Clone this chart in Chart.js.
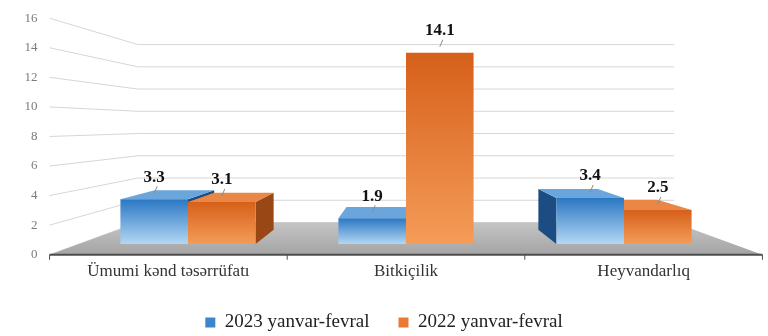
<!DOCTYPE html>
<html>
<head>
<meta charset="utf-8">
<script src="https://cdn.jsdelivr.net/npm/chart.js@4"></script>
<style>
  html, body { margin: 0; padding: 0; background: #ffffff; }
  #wrap { width: 768px; height: 336px; }
</style>
</head>
<body>
<div id="wrap"><canvas id="chart"></canvas></div>
<script>
const categories = ["Ümumi kənd təsərrüfatı", "Bitkiçilik", "Heyvandarlıq"];
const seriesNames = ["2023 yanvar-fevral", "2022 yanvar-fevral"];
const values2023 = [3.3, 1.9, 3.4];
const values2022 = [3.1, 14.1, 2.5];
const yTicks = [0, 2, 4, 6, 8, 10, 12, 14, 16];

const SERIF = "'Liberation Serif', 'DejaVu Serif', serif";

// fake perspective: k < 0 is toward the viewer, k > 0 is into the picture
const FRONT = -0.09, BAR_DEPTH = 0.12, WALL = 0.18;

const looks = [
  { top: "#2a77c3", bottom: "#b3d7f3", lid: "#6aa6dc", side: "#1c4c82", key: "#3b86cf" },
  { top: "#d6601a", bottom: "#f49c58", lid: "#ea8646", side: "#9a4716", key: "#e97a34" }
];

function vanish(chart) {
  const a = chart.chartArea;
  return { x: (a.left + a.right) / 2, y: a.top + (a.bottom - a.top) * 0.45 };
}

function proj(v, x, y, k) {
  return [x + (v.x - x) * k, y + (v.y - y) * k];
}

function poly(ctx, pts, fill) {
  ctx.beginPath();
  ctx.moveTo(pts[0][0], pts[0][1]);
  for (let i = 1; i < pts.length; i++) ctx.lineTo(pts[i][0], pts[i][1]);
  ctx.closePath();
  ctx.fillStyle = fill;
  ctx.fill();
}

function frontFill(i) {
  return function (c) {
    const look = looks[i];
    if (c.type !== "data" || !c.chart.chartArea || !c.chart.scales.y) return look.key;
    const y = c.chart.scales.y;
    const top = y.getPixelForValue(c.raw);
    const base = y.getPixelForValue(0);
    const g = c.chart.ctx.createLinearGradient(0, top, 0, base);
    g.addColorStop(0, look.top);
    g.addColorStop(1, look.bottom);
    return g;
  };
}

const box3d = {
  id: "box3d",
  beforeDraw(chart) {
    const ctx = chart.ctx, a = chart.chartArea, y = chart.scales.y;
    const v = vanish(chart);
    ctx.save();
    ctx.strokeStyle = "#d6d6d6";
    ctx.lineWidth = 1;
    ctx.font = "13px " + SERIF;
    ctx.fillStyle = "#7b7b7b";
    ctx.textAlign = "right";
    ctx.textBaseline = "middle";
    yTicks.forEach(function (t) {
      const py = y.getPixelForValue(t);
      const f = proj(v, a.left, py, FRONT);
      const b = proj(v, a.left, py, WALL);
      const r = proj(v, a.right, py, WALL);
      ctx.beginPath();
      ctx.moveTo(f[0], f[1]);
      ctx.lineTo(b[0], b[1]);
      ctx.lineTo(r[0], b[1]);
      ctx.stroke();
      ctx.fillText(String(t), f[0] - 12, f[1]);
    });
    ctx.restore();
  },
  beforeDatasetsDraw(chart) {
    const ctx = chart.ctx, a = chart.chartArea, y = chart.scales.y;
    const v = vanish(chart);
    const base = y.getPixelForValue(0);
    ctx.save();
    // floor
    const fl = proj(v, a.left, base, FRONT), fr = proj(v, a.right, base, FRONT);
    const bl = proj(v, a.left, base, WALL), br = proj(v, a.right, base, WALL);
    const g = ctx.createLinearGradient(0, bl[1], 0, fl[1]);
    g.addColorStop(0, "#c4c4c4");
    g.addColorStop(1, "#a4a4a4");
    poly(ctx, [fl, fr, br, bl], g);
    // front axis line with category ticks
    ctx.strokeStyle = "#4d4d4d";
    ctx.lineWidth = 2;
    ctx.beginPath();
    ctx.moveTo(fl[0], fl[1]);
    ctx.lineTo(fr[0], fr[1]);
    ctx.stroke();
    ctx.lineWidth = 1;
    const step = (a.right - a.left) / categories.length;
    for (let i = 0; i <= categories.length; i++) {
      const p = proj(v, a.left + i * step, base, FRONT);
      ctx.beginPath();
      ctx.moveTo(p[0], p[1]);
      ctx.lineTo(p[0], p[1] + 5);
      ctx.stroke();
    }
    // category labels on the front edge
    ctx.font = "17px " + SERIF;
    ctx.fillStyle = "#333333";
    ctx.textAlign = "center";
    ctx.textBaseline = "middle";
    categories.forEach(function (name, i) {
      const p = proj(v, chart.scales.x.getPixelForValue(i), base, FRONT);
      ctx.fillText(name, p[0], p[1] + 17);
    });
    // sides and lids, farthest from the centre first
    const boxes = [];
    chart.data.datasets.forEach(function (ds, di) {
      chart.getDatasetMeta(di).data.forEach(function (el) {
        boxes.push({ el: el, look: looks[di] });
      });
    });
    boxes.sort(function (p, q) { return Math.abs(q.el.x - v.x) - Math.abs(p.el.x - v.x); });
    boxes.forEach(function (b) {
      const el = b.el, l = el.x - el.width / 2, r = el.x + el.width / 2;
      if (r < v.x) {
        poly(ctx, [[r, el.y], proj(v, r, el.y, BAR_DEPTH), proj(v, r, el.base, BAR_DEPTH), [r, el.base]], b.look.side);
      }
      if (l > v.x) {
        poly(ctx, [[l, el.y], proj(v, l, el.y, BAR_DEPTH), proj(v, l, el.base, BAR_DEPTH), [l, el.base]], b.look.side);
      }
      if (el.y > v.y) {
        poly(ctx, [[l, el.y], [r, el.y], proj(v, r, el.y, BAR_DEPTH), proj(v, l, el.y, BAR_DEPTH)], b.look.lid);
      }
    });
    ctx.restore();
  },
  afterDatasetsDraw(chart) {
    const ctx = chart.ctx;
    ctx.save();
    ctx.textAlign = "center";
    ctx.textBaseline = "middle";
    chart.data.datasets.forEach(function (ds, di) {
      chart.getDatasetMeta(di).data.forEach(function (el, i) {
        ctx.strokeStyle = "#8a8a8a";
        ctx.lineWidth = 1;
        ctx.beginPath();
        ctx.moveTo(el.x + 3, el.y - 13);
        ctx.lineTo(el.x, el.y - 6);
        ctx.stroke();
        ctx.font = "bold 17px " + SERIF;
        ctx.fillStyle = "#111111";
        ctx.fillText(ds.data[i].toFixed(1), el.x, el.y - 22);
      });
    });
    ctx.restore();
  }
};

new Chart(document.getElementById("chart"), {
  type: "bar",
  data: {
    labels: categories,
    datasets: [
      { label: seriesNames[0], data: values2023, backgroundColor: frontFill(0), borderWidth: 0 },
      { label: seriesNames[1], data: values2022, backgroundColor: frontFill(1), borderWidth: 0 }
    ]
  },
  options: {
    responsive: true,
    maintainAspectRatio: false,
    animation: false,
    layout: { padding: { left: 0, right: 0, top: 27, bottom: -6 } },
    datasets: { bar: { categoryPercentage: 0.62, barPercentage: 1.0 } },
    scales: {
      x: {
        grid: { display: false, drawTicks: false },
        border: { display: false },
        ticks: { display: false },
        afterFit: function (s) { s.height = 40; }
      },
      y: {
        min: 0, max: 16,
        grid: { display: false, drawTicks: false },
        border: { display: false },
        ticks: { display: false },
        afterFit: function (s) { s.width = 79; }
      },
      yRight: {
        type: "linear",
        position: "right",
        grid: { display: false, drawTicks: false },
        border: { display: false },
        ticks: { display: false },
        afterFit: function (s) { s.width = 35; }
      }
    },
    plugins: {
      legend: {
        position: "bottom",
        labels: {
          color: "#222222",
          boxWidth: 10,
          boxHeight: 10,
          padding: 29,
          font: { family: SERIF, size: 19 },
          generateLabels: function (chart) {
            const items = Chart.defaults.plugins.legend.labels.generateLabels(chart);
            items.forEach(function (it, i) {
              it.fillStyle = looks[i].key;
              it.strokeStyle = "#9cc6ea";
              it.lineWidth = 0;
            });
            return items;
          }
        }
      },
      tooltip: { enabled: false }
    }
  },
  plugins: [box3d]
});
</script>
</body>
</html>
